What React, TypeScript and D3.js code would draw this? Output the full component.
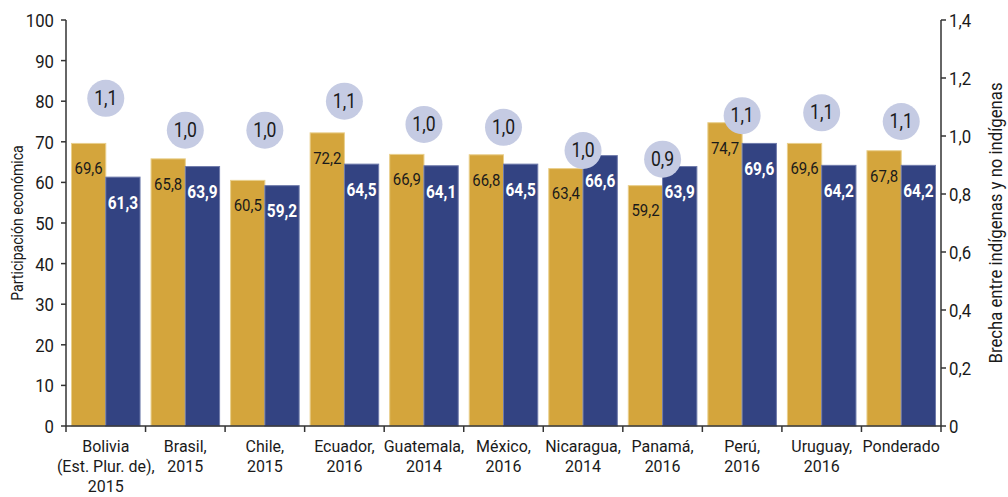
import React from "react";
import * as d3 from "d3";

const categories: string[][] = [
  ["Bolivia", "(Est. Plur. de),", "2015"],
  ["Brasil,", "2015"],
  ["Chile,", "2015"],
  ["Ecuador,", "2016"],
  ["Guatemala,", "2014"],
  ["México,", "2016"],
  ["Nicaragua,", "2014"],
  ["Panamá,", "2016"],
  ["Perú,", "2016"],
  ["Uruguay,", "2016"],
  ["Ponderado"],
];
const noIndigenas = [69.6, 65.8, 60.5, 72.2, 66.9, 66.8, 63.4, 59.2, 74.7, 69.6, 67.8];
const indigenas = [61.3, 63.9, 59.2, 64.5, 64.1, 64.5, 66.6, 63.9, 69.6, 64.2, 64.2];
const brecha = [1.13, 1.02, 1.02, 1.12, 1.04, 1.03, 0.95, 0.92, 1.07, 1.08, 1.05];
const brechaLabels = ["1,1", "1,0", "1,0", "1,1", "1,0", "1,0", "1,0", "0,9", "1,1", "1,1", "1,1"];
const leftTicks = [0, 10, 20, 30, 40, 50, 60, 70, 80, 90, 100];
const rightTicks = [0, 0.2, 0.4, 0.6, 0.8, 1.0, 1.2, 1.4];
const rightTickLabels = ["0", "0,2", "0,4", "0,6", "0,8", "1,0", "1,2", "1,4"];

const W = 1008;
const H = 497;
const M = { left: 66, right: 941, top: 20, bottom: 426 };
const FONT = "Roboto, 'Noto Sans', sans-serif";
const GOLD = "#d4a53c";
const BLUE = "#334382";
const CIRCLE = "#c5cbe3";
const AXIS = "#333";
const INK = "#1a1a1a";
const SX = 0.88;

const fmt = (v: number) => d3.format(".1f")(v).replace(".", ",");

type TProps = {
  x: number;
  y: number;
  rotate?: number;
  anchor?: "start" | "middle" | "end";
  size: number;
  sx?: number;
  weight?: string;
  fill?: string;
  children: React.ReactNode;
};

function T({ x, y, rotate = 0, anchor = "middle", size, sx = SX, weight = "normal", fill = INK, children }: TProps) {
  return (
    <g transform={`translate(${x},${y}) rotate(${rotate}) scale(${sx},1)`}>
      <text x={0} y={0} textAnchor={anchor} dominantBaseline="central" fontSize={size} fontWeight={weight} fill={fill}>
        {children}
      </text>
    </g>
  );
}

export default function App() {
  const idx = categories.map((_, i) => String(i));
  const x = d3.scaleBand<string>().domain(idx).range([M.left, M.right]).paddingInner(0).paddingOuter(0);
  const bw = x.bandwidth();
  const xs = d3.scaleBand<string>().domain(["ni", "i"]).range([5.5, bw - 5.5]);
  const y = d3.scaleLinear().domain([0, 100]).range([M.bottom, M.top]);
  const yr = d3.scaleLinear().domain([0, 1.4]).range([M.bottom, M.top]);
  const sw = xs.bandwidth();

  return (
    <svg width={W} height={H} style={{ position: "absolute", left: 0, top: 0, display: "block", background: "#fff" }} fontFamily={FONT}>
      {idx.map((k, i) => {
        const x0 = x(k)!;
        return (
          <g key={k}>
            <rect x={x0 + xs("ni")!} y={y(noIndigenas[i])} width={sw} height={y(0) - y(noIndigenas[i])} fill={GOLD} stroke="#e9cf8c" strokeWidth={1} />
            <rect x={x0 + xs("i")!} y={y(indigenas[i])} width={sw} height={y(0) - y(indigenas[i])} fill={BLUE} stroke="#6f7bab" strokeWidth={1} />
            <T x={x0 + xs("ni")! + sw / 2} y={y(noIndigenas[i]) + 25} size={17}>{fmt(noIndigenas[i])}</T>
            <T x={x0 + xs("i")! + sw / 2} y={y(indigenas[i]) + 26} size={17.5} weight="bold" fill="#fff">{fmt(indigenas[i])}</T>
          </g>
        );
      })}
      {idx.map((k, i) => {
        const cx = x(k)! + bw / 2;
        const cy = yr(brecha[i]);
        return (
          <g key={"c" + k}>
            <circle cx={cx} cy={cy} r={18.5} fill={CIRCLE} />
            <T x={cx} y={cy} size={20}>{brechaLabels[i]}</T>
          </g>
        );
      })}
      <line x1={M.left} x2={M.left} y1={M.top} y2={M.bottom} stroke={AXIS} strokeWidth={1.5} />
      {leftTicks.map((t) => (
        <g key={"l" + t}>
          <line x1={M.left - 5} x2={M.left} y1={y(t)} y2={y(t)} stroke={AXIS} strokeWidth={1.5} />
          <T x={M.left - 12} y={y(t)} anchor="end" size={19}>{t}</T>
        </g>
      ))}
      <T x={18} y={(M.top + M.bottom) / 2} rotate={-90} size={16}>Participación económica</T>
      <line x1={M.right} x2={M.right} y1={M.top} y2={M.bottom} stroke={AXIS} strokeWidth={1.5} />
      {rightTicks.map((t, i) => (
        <g key={"r" + t}>
          <line x1={M.right} x2={M.right + 5} y1={yr(t)} y2={yr(t)} stroke={AXIS} strokeWidth={1.5} />
          <T x={M.right + 8} y={yr(t)} anchor="start" size={19}>{rightTickLabels[i]}</T>
        </g>
      ))}
      <T x={995} y={(M.top + M.bottom) / 2} rotate={-90} size={19}>Brecha entre indígenas y no indígenas</T>
      <line x1={M.left} x2={M.right} y1={M.bottom} y2={M.bottom} stroke={AXIS} strokeWidth={1.5} />
      {idx.map((k) => (
        <line key={"t" + k} x1={x(k)!} x2={x(k)!} y1={M.bottom} y2={M.bottom + 6} stroke={AXIS} strokeWidth={1.5} />
      ))}
      <line x1={M.right} x2={M.right} y1={M.bottom} y2={M.bottom + 6} stroke={AXIS} strokeWidth={1.5} />
      {idx.map((k, i) =>
        categories[i].map((line, j) => (
          <T key={"x" + k + "-" + j} x={x(k)! + bw / 2} y={446 + j * 20} size={17} sx={0.94}>{line}</T>
        ))
      )}
    </svg>
  );
}
